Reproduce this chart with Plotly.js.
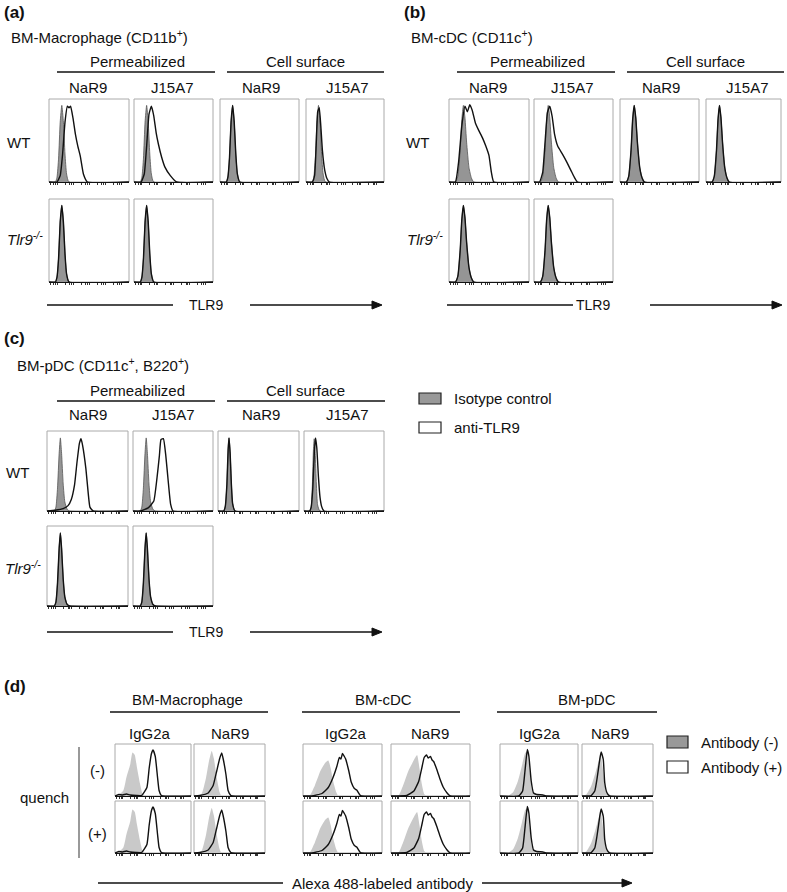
<!DOCTYPE html>
<html>
<head>
<meta charset="utf-8">
<script src="https://cdn.plot.ly/plotly-3.0.1.min.js"></script>
<style>
  body { margin: 0; background: #fff; }
  #plot { width: 787px; height: 892px; }
</style>
</head>
<body>
<div id="plot"></div>
<script>
// histogram outlines (x = relative fluorescence, y = relative count)

// (a) BM-Macrophage
var isoA_x = [0, 0.08, 0.1, 0.12, 0.14, 0.16, 0.18, 0.2, 0.22, 0.25, 1];
var isoA_y = [0, 0, 0.06, 0.3, 0.75, 0.96, 0.75, 0.35, 0.1, 0, 0];
var antiA1_x = [0, 0.1, 0.14, 0.17, 0.2, 0.23, 0.25, 0.27, 0.3, 0.33, 0.36, 0.39, 0.43, 0.48, 1];
var antiA1_y = [0, 0, 0.08, 0.35, 0.75, 0.95, 0.93, 0.95, 0.8, 0.6, 0.45, 0.33, 0.1, 0, 0];
var antiA2_x = [0, 0.09, 0.13, 0.16, 0.19, 0.22, 0.25, 0.28, 0.31, 0.35, 0.39, 0.46, 0.54, 1];
var antiA2_y = [0, 0, 0.1, 0.45, 0.85, 0.95, 0.83, 0.62, 0.47, 0.31, 0.19, 0.08, 0, 0];
var antiA4_x = [0, 0.08, 0.11, 0.13, 0.15, 0.17, 0.19, 0.21, 0.24, 0.27, 0.3, 1];
var antiA4_y = [0, 0, 0.08, 0.45, 0.88, 0.93, 0.7, 0.4, 0.15, 0.04, 0, 0];

// (b) BM-cDC
var isoB_x = [0, 0.08, 0.11, 0.14, 0.16, 0.18, 0.2, 0.22, 0.25, 0.28, 0.31, 1];
var isoB_y = [0, 0, 0.07, 0.4, 0.78, 0.96, 0.8, 0.5, 0.18, 0.05, 0, 0];
var antiB1_x = [0, 0.08, 0.12, 0.16, 0.2, 0.23, 0.26, 0.29, 0.33, 0.37, 0.42, 0.46, 0.5, 0.53, 0.56, 1];
var antiB1_y = [0, 0, 0.25, 0.7, 0.95, 0.88, 0.97, 0.9, 0.74, 0.65, 0.55, 0.45, 0.33, 0.12, 0, 0];
var antiB2_x = [0, 0.07, 0.11, 0.14, 0.17, 0.2, 0.23, 0.26, 0.3, 0.36, 0.42, 0.47, 0.51, 0.55, 1];
var antiB2_y = [0, 0, 0.12, 0.5, 0.87, 0.95, 0.82, 0.6, 0.45, 0.35, 0.24, 0.14, 0.06, 0, 0];

// (c) BM-pDC
var isoC_x = [0, 0.09, 0.11, 0.13, 0.15, 0.165, 0.18, 0.2, 0.22, 0.25, 0.28, 1];
var isoC_y = [0, 0, 0.05, 0.3, 0.75, 0.95, 0.75, 0.35, 0.12, 0.02, 0, 0];
var isoC3_x = [0, 0.07, 0.09, 0.11, 0.125, 0.136, 0.15, 0.165, 0.18, 0.21, 1];
var isoC3_y = [0, 0, 0.06, 0.35, 0.8, 0.95, 0.75, 0.35, 0.1, 0, 0];
var isoC4_x = [0, 0.07, 0.09, 0.105, 0.118, 0.128, 0.14, 0.155, 0.17, 0.2, 1];
var isoC4_y = [0, 0, 0.06, 0.35, 0.8, 0.94, 0.75, 0.35, 0.08, 0, 0];
var antiC1_x = [0, 0.1, 0.2, 0.26, 0.3, 0.34, 0.37, 0.4, 0.42, 0.44, 0.48, 0.51, 0.53, 0.57, 1];
var antiC1_y = [0, 0.01, 0.03, 0.07, 0.15, 0.34, 0.63, 0.88, 0.94, 0.85, 0.55, 0.22, 0.05, 0, 0];
var antiC2_x = [0, 0.09, 0.19, 0.26, 0.3, 0.33, 0.35, 0.38, 0.41, 0.44, 0.47, 0.5, 1];
var antiC2_y = [0, 0, 0.04, 0.13, 0.43, 0.72, 0.93, 0.94, 0.72, 0.39, 0.09, 0, 0];
var antiC4_x = [0, 0.07, 0.09, 0.11, 0.13, 0.145, 0.16, 0.18, 0.2, 0.22, 0.25, 1];
var antiC4_y = [0, 0, 0.05, 0.3, 0.78, 0.95, 0.82, 0.45, 0.18, 0.06, 0, 0];

// (d) quench, antibody (-) / (+)
var mIsoG_x = [0, 0.04, 0.11, 0.15, 0.2, 0.23, 0.26, 0.29, 0.33, 0.36, 0.39, 1];
var mIsoG_y = [0, 0.01, 0.11, 0.37, 0.63, 0.87, 0.82, 0.56, 0.24, 0.05, 0, 0];
var mAntiG_x = [0, 0.05, 0.1, 0.15, 0.2, 0.28, 0.35, 0.42, 0.45, 0.48, 0.5, 0.53, 0.56, 0.58, 0.61, 1];
var mAntiG_y = [0, 0.03, 0.02, 0.04, 0.02, 0.01, 0.01, 0.17, 0.56, 0.85, 0.92, 0.79, 0.37, 0.11, 0.01, 0];
var mIsoN_x = [0, 0.06, 0.11, 0.17, 0.21, 0.25, 0.28, 0.32, 0.36, 0.39, 1];
var mIsoN_y = [0, 0, 0.05, 0.37, 0.69, 0.9, 0.75, 0.37, 0.08, 0, 0];
var mAntiN_x = [0, 0.08, 0.2, 0.27, 0.32, 0.36, 0.39, 0.41, 0.45, 0.48, 0.52, 1];
var mAntiN_y = [0, 0.01, 0.06, 0.21, 0.5, 0.74, 0.86, 0.75, 0.43, 0.11, 0.01, 0];
var cIsoG_x = [0, 0.05, 0.09, 0.15, 0.22, 0.28, 0.32, 0.35, 0.38, 0.42, 0.45, 1];
var cIsoG_y = [0, 0, 0.02, 0.21, 0.5, 0.66, 0.71, 0.56, 0.31, 0.08, 0, 0];
var cAntiG_x = [0, 0.11, 0.24, 0.32, 0.38, 0.43, 0.46, 0.48, 0.5, 0.52, 0.54, 0.58, 0.61, 0.65, 0.68, 0.72, 0.74, 1];
var cAntiG_y = [0, 0, 0.05, 0.17, 0.37, 0.6, 0.77, 0.74, 0.85, 0.8, 0.74, 0.5, 0.28, 0.15, 0.12, 0.02, 0, 0];
var cIsoN_x = [0, 0.06, 0.1, 0.16, 0.22, 0.29, 0.33, 0.36, 0.39, 0.42, 0.45, 1];
var cIsoN_y = [0, 0, 0.02, 0.24, 0.5, 0.72, 0.82, 0.56, 0.24, 0.04, 0, 0];
var cAntiN_x = [0, 0.2, 0.29, 0.35, 0.39, 0.42, 0.45, 0.47, 0.5, 0.52, 0.54, 0.58, 0.62, 0.66, 0.71, 0.75, 1];
var cAntiN_y = [0, 0.01, 0.1, 0.29, 0.56, 0.77, 0.82, 0.76, 0.79, 0.72, 0.69, 0.53, 0.34, 0.18, 0.06, 0, 0];
var pIsoG_x = [0, 0.1, 0.17, 0.23, 0.28, 0.32, 0.35, 0.38, 0.41, 0.45, 1];
var pIsoG_y = [0, 0, 0.08, 0.3, 0.6, 0.85, 0.9, 0.5, 0.12, 0, 0];
var pAntiG_x = [0, 0.24, 0.29, 0.32, 0.35, 0.37, 0.4, 0.43, 0.47, 0.55, 0.6, 1];
var pAntiG_y = [0, 0, 0.1, 0.5, 0.93, 0.8, 0.3, 0.06, 0.03, 0.02, 0, 0];
var pIsoN_x = [0, 0.06, 0.13, 0.19, 0.24, 0.26, 0.3, 0.33, 0.37, 1];
var pIsoN_y = [0, 0.03, 0.2, 0.47, 0.73, 0.87, 0.47, 0.13, 0, 0];
var pAntiN_x = [0, 0.13, 0.18, 0.21, 0.25, 0.27, 0.3, 0.32, 0.35, 0.39, 1];
var pAntiN_y = [0, 0.01, 0.1, 0.33, 0.73, 0.88, 0.73, 0.27, 0.07, 0, 0];

// labels
var colLabels = ['NaR9', 'J15A7', 'NaR9', 'J15A7'];
var colLabelsD = ['IgG2a', 'NaR9', 'IgG2a', 'NaR9', 'IgG2a', 'NaR9'];
var groupsD = ['BM-Macrophage', 'BM-cDC', 'BM-pDC'];
var tickPos = [0.02, 0.06, 0.08, 0.1, 0.2, 0.26, 0.28, 0.3, 0.4, 0.46, 0.48, 0.5, 0.6, 0.66, 0.68, 0.7, 0.8, 0.86, 0.88, 0.9];

var W = 787, H = 892;
var FONT = 'Liberation Sans, Arial, sans-serif';
function px(x) { return x / W; }
function py(y) { return 1 - y / H; }

var traces = [];
var shapes = [];
var annotations = [];
var layout = {
  width: W, height: H,
  margin: {l: 0, r: 0, t: 0, b: 0},
  paper_bgcolor: '#fff',
  plot_bgcolor: 'rgba(0,0,0,0)',
  showlegend: false,
  font: {family: FONT, size: 14, color: '#111'}
};

var n = 0;
function panel(x0, x1, y0, y1, isoX, isoY, antiX, antiY, light) {
  n += 1;
  var s = n === 1 ? '' : String(n);
  layout['xaxis' + s] = {
    domain: [px(x0), px(x1)], anchor: 'y' + s, range: [0, 1],
    showline: true, linecolor: '#111', linewidth: 1,
    ticks: 'outside', ticklen: 2, tickwidth: 1, tickcolor: '#333',
    tickvals: tickPos, showticklabels: false,
    showgrid: false, zeroline: false, fixedrange: true
  };
  layout['yaxis' + s] = {
    domain: [py(y1), py(y0)], anchor: 'x' + s, range: [0, 1.04],
    visible: false, fixedrange: true
  };
  traces.push({
    x: isoX, y: isoY, xaxis: 'x' + s, yaxis: 'y' + s,
    type: 'scatter', mode: 'lines', fill: 'tozeroy',
    fillcolor: light ? '#c9c9c9' : '#959595',
    line: {color: light ? 'rgba(0,0,0,0)' : '#555', width: light ? 0 : 0.8, shape: 'spline', smoothing: 0.5},
    hoverinfo: 'skip'
  });
  traces.push({
    x: antiX, y: antiY, xaxis: 'x' + s, yaxis: 'y' + s,
    type: 'scatter', mode: 'lines',
    line: {color: '#111', width: 1.4, shape: 'spline', smoothing: 0.4},
    hoverinfo: 'skip'
  });
  shapes.push({
    type: 'rect', xref: 'x' + s + ' domain', yref: 'y' + s + ' domain',
    x0: 0, x1: 1, y0: 0, y1: 1, layer: 'below',
    line: {color: '#aaa', width: 1}
  });
}

function text(x, y, str, size, anchor) {
  annotations.push({
    xref: 'paper', yref: 'paper', x: px(x), y: py(y), text: str,
    showarrow: false, xanchor: anchor || 'center', yanchor: 'middle',
    font: {family: FONT, size: size || 14, color: '#111'}
  });
}

function hline(x0, x1, y, w) {
  shapes.push({type: 'line', xref: 'paper', yref: 'paper',
    x0: px(x0), x1: px(x1), y0: py(y), y1: py(y),
    line: {color: '#111', width: w || 1.5}});
}

function arrow(x0, x1, y) {
  hline(x0, x1 - 6, y, 1.3);
  shapes.push({type: 'path', xref: 'paper', yref: 'paper',
    path: 'M ' + px(x1 - 10) + ',' + py(y - 4) + ' L ' + px(x1) + ',' + py(y) +
          ' L ' + px(x1 - 10) + ',' + py(y + 4) + ' Z',
    fillcolor: '#111', line: {color: '#111', width: 1}});
}

// ---- (a) and (b): same layout, (b) shifted right
function topBlock(dx, tag, title, cellsX, isos, antis, koIsos, axisLabel) {
  text(dx + 2, 12, '<b>' + tag + '</b>', 17, 'left');
  text(dx + 9, 36, title, 15, 'left');
  text(dx + 137, 62, 'Permeabilized', 15);
  text(dx + 305, 62, 'Cell surface', 15);
  hline(dx + 57, dx + 215, 72);
  hline(dx + 227, dx + 384, 72);
  var colsX = [88, 172, 261, 347];
  for (var i = 0; i < 4; i++) text(dx + colsX[i], 87, colLabels[i], 15);
  text(dx + 18, 143, 'WT', 15);
  text(dx + 5, 238, '<i>Tlr9<sup>-/-</sup></i>', 15, 'left');
  for (var j = 0; j < 4; j++) {
    panel(dx + cellsX[j][0], dx + cellsX[j][1], 99, 182, isos[j][0], isos[j][1], antis[j][0], antis[j][1], false);
  }
  for (var k = 0; k < 2; k++) {
    panel(dx + cellsX[k][0], dx + cellsX[k][1], 199, 282, koIsos[k][0], koIsos[k][1], koIsos[k][0], koIsos[k][1], false);
  }
  hline(dx + 47, dx + 173, 305, 1.3);
  text(dx + axisLabel, 305, 'TLR9', 14);
  arrow(dx + 250, dx + 382, 305);
}

topBlock(0, '(a)', 'BM-Macrophage (CD11b<sup>+</sup>)',
  [[49, 129], [134, 213], [220, 299], [306, 384]],
  [[isoA_x, isoA_y], [isoA_x, isoA_y], [isoA_x, isoA_y], [isoA_x, isoA_y]],
  [[antiA1_x, antiA1_y], [antiA2_x, antiA2_y], [isoA_x, isoA_y], [antiA4_x, antiA4_y]],
  [[isoA_x, isoA_y], [isoA_x, isoA_y]], 206);

topBlock(400, '(b)', 'BM-cDC (CD11c<sup>+</sup>)',
  [[49, 129], [134, 213], [220, 299], [306, 381]],
  [[isoB_x, isoB_y], [isoB_x, isoB_y], [isoB_x, isoB_y], [isoB_x, isoB_y]],
  [[antiB1_x, antiB1_y], [antiB2_x, antiB2_y], [isoB_x, isoB_y], [isoB_x, isoB_y]],
  [[isoB_x, isoB_y], [isoB_x, isoB_y]], 193);

// ---- (c)
text(2, 338, '<b>(c)</b>', 17, 'left');
text(15, 364, 'BM-pDC (CD11c<sup>+</sup>, B220<sup>+</sup>)', 15, 'left');
text(137, 390, 'Permeabilized', 15);
text(305, 390, 'Cell surface', 15);
hline(57, 215, 401);
hline(227, 385, 401);
var cColX = [88, 173, 261, 347];
for (var i = 0; i < 4; i++) text(cColX[i], 415, colLabels[i], 15);
text(17, 472, 'WT', 15);
text(3, 567, '<i>Tlr9<sup>-/-</sup></i>', 15, 'left');
panel(47, 128, 431, 511, isoC_x, isoC_y, antiC1_x, antiC1_y, false);
panel(133, 213, 431, 511, isoC_x, isoC_y, antiC2_x, antiC2_y, false);
panel(218, 299, 431, 511, isoC3_x, isoC3_y, isoC3_x, isoC3_y, false);
panel(304, 384, 431, 511, isoC4_x, isoC4_y, antiC4_x, antiC4_y, false);
panel(47, 128, 526, 606, isoC_x, isoC_y, isoC_x, isoC_y, false);
panel(133, 213, 526, 606, isoC_x, isoC_y, isoC_x, isoC_y, false);
hline(47, 173, 632, 1.3);
text(206, 632, 'TLR9', 14);
arrow(250, 382, 632);

// legend (c)
shapes.push({type: 'rect', xref: 'paper', yref: 'paper', x0: px(419), x1: px(441), y0: py(404), y1: py(393),
  fillcolor: '#999', line: {color: '#222', width: 1.2}});
shapes.push({type: 'rect', xref: 'paper', yref: 'paper', x0: px(419), x1: px(441), y0: py(433), y1: py(422),
  fillcolor: '#fff', line: {color: '#222', width: 1.2}});
text(452, 398, 'Isotype control', 15, 'left');
text(452, 427, 'anti-TLR9', 15, 'left');

// ---- (d)
text(2, 686, '<b>(d)</b>', 17, 'left');
var gCenter = [187, 383, 587];
var gLine = [[110, 268], [302, 460], [497, 657]];
for (var g = 0; g < 3; g++) {
  text(gCenter[g], 699, groupsD[g], 15);
  hline(gLine[g][0], gLine[g][1], 712);
}
var dColX = [150, 230, 346, 430, 540, 610];
for (var c = 0; c < 6; c++) text(dColX[c], 733, colLabelsD[c], 15);
var dCells = [[115, 191], [194, 265], [303, 382], [391, 470], [500, 578], [582, 653]];
var dIso = [[mIsoG_x, mIsoG_y], [mIsoN_x, mIsoN_y], [cIsoG_x, cIsoG_y], [cIsoN_x, cIsoN_y], [pIsoG_x, pIsoG_y], [pIsoN_x, pIsoN_y]];
var dAnti = [[mAntiG_x, mAntiG_y], [mAntiN_x, mAntiN_y], [cAntiG_x, cAntiG_y], [cAntiN_x, cAntiN_y], [pAntiG_x, pAntiG_y], [pAntiN_x, pAntiN_y]];
var dRows = [[744, 796], [801, 853]];
for (var r = 0; r < 2; r++) {
  for (var c2 = 0; c2 < 6; c2++) {
    panel(dCells[c2][0], dCells[c2][1], dRows[r][0], dRows[r][1],
      dIso[c2][0], dIso[c2][1], dAnti[c2][0], dAnti[c2][1], true);
  }
}
text(44, 797, 'quench', 15);
shapes.push({type: 'line', xref: 'paper', yref: 'paper', x0: px(79), x1: px(79), y0: py(747), y1: py(858),
  line: {color: '#555', width: 1.2}});
text(97, 770, '(-)', 15);
text(97, 833, '(+)', 15);

shapes.push({type: 'rect', xref: 'paper', yref: 'paper', x0: px(667), x1: px(688), y0: py(748), y1: py(736),
  fillcolor: '#999', line: {color: '#222', width: 1.2}});
shapes.push({type: 'rect', xref: 'paper', yref: 'paper', x0: px(667), x1: px(688), y0: py(773), y1: py(761),
  fillcolor: '#fff', line: {color: '#222', width: 1.2}});
text(699, 742, 'Antibody (-)', 15, 'left');
text(699, 767, 'Antibody (+)', 15, 'left');

hline(98, 283, 883, 1.3);
text(382, 883, 'Alexa 488-labeled antibody', 15);
arrow(482, 632, 883);

layout.shapes = shapes;
layout.annotations = annotations;

Plotly.newPlot('plot', traces, layout, {staticPlot: true, displayModeBar: false});
</script>
</body>
</html>
